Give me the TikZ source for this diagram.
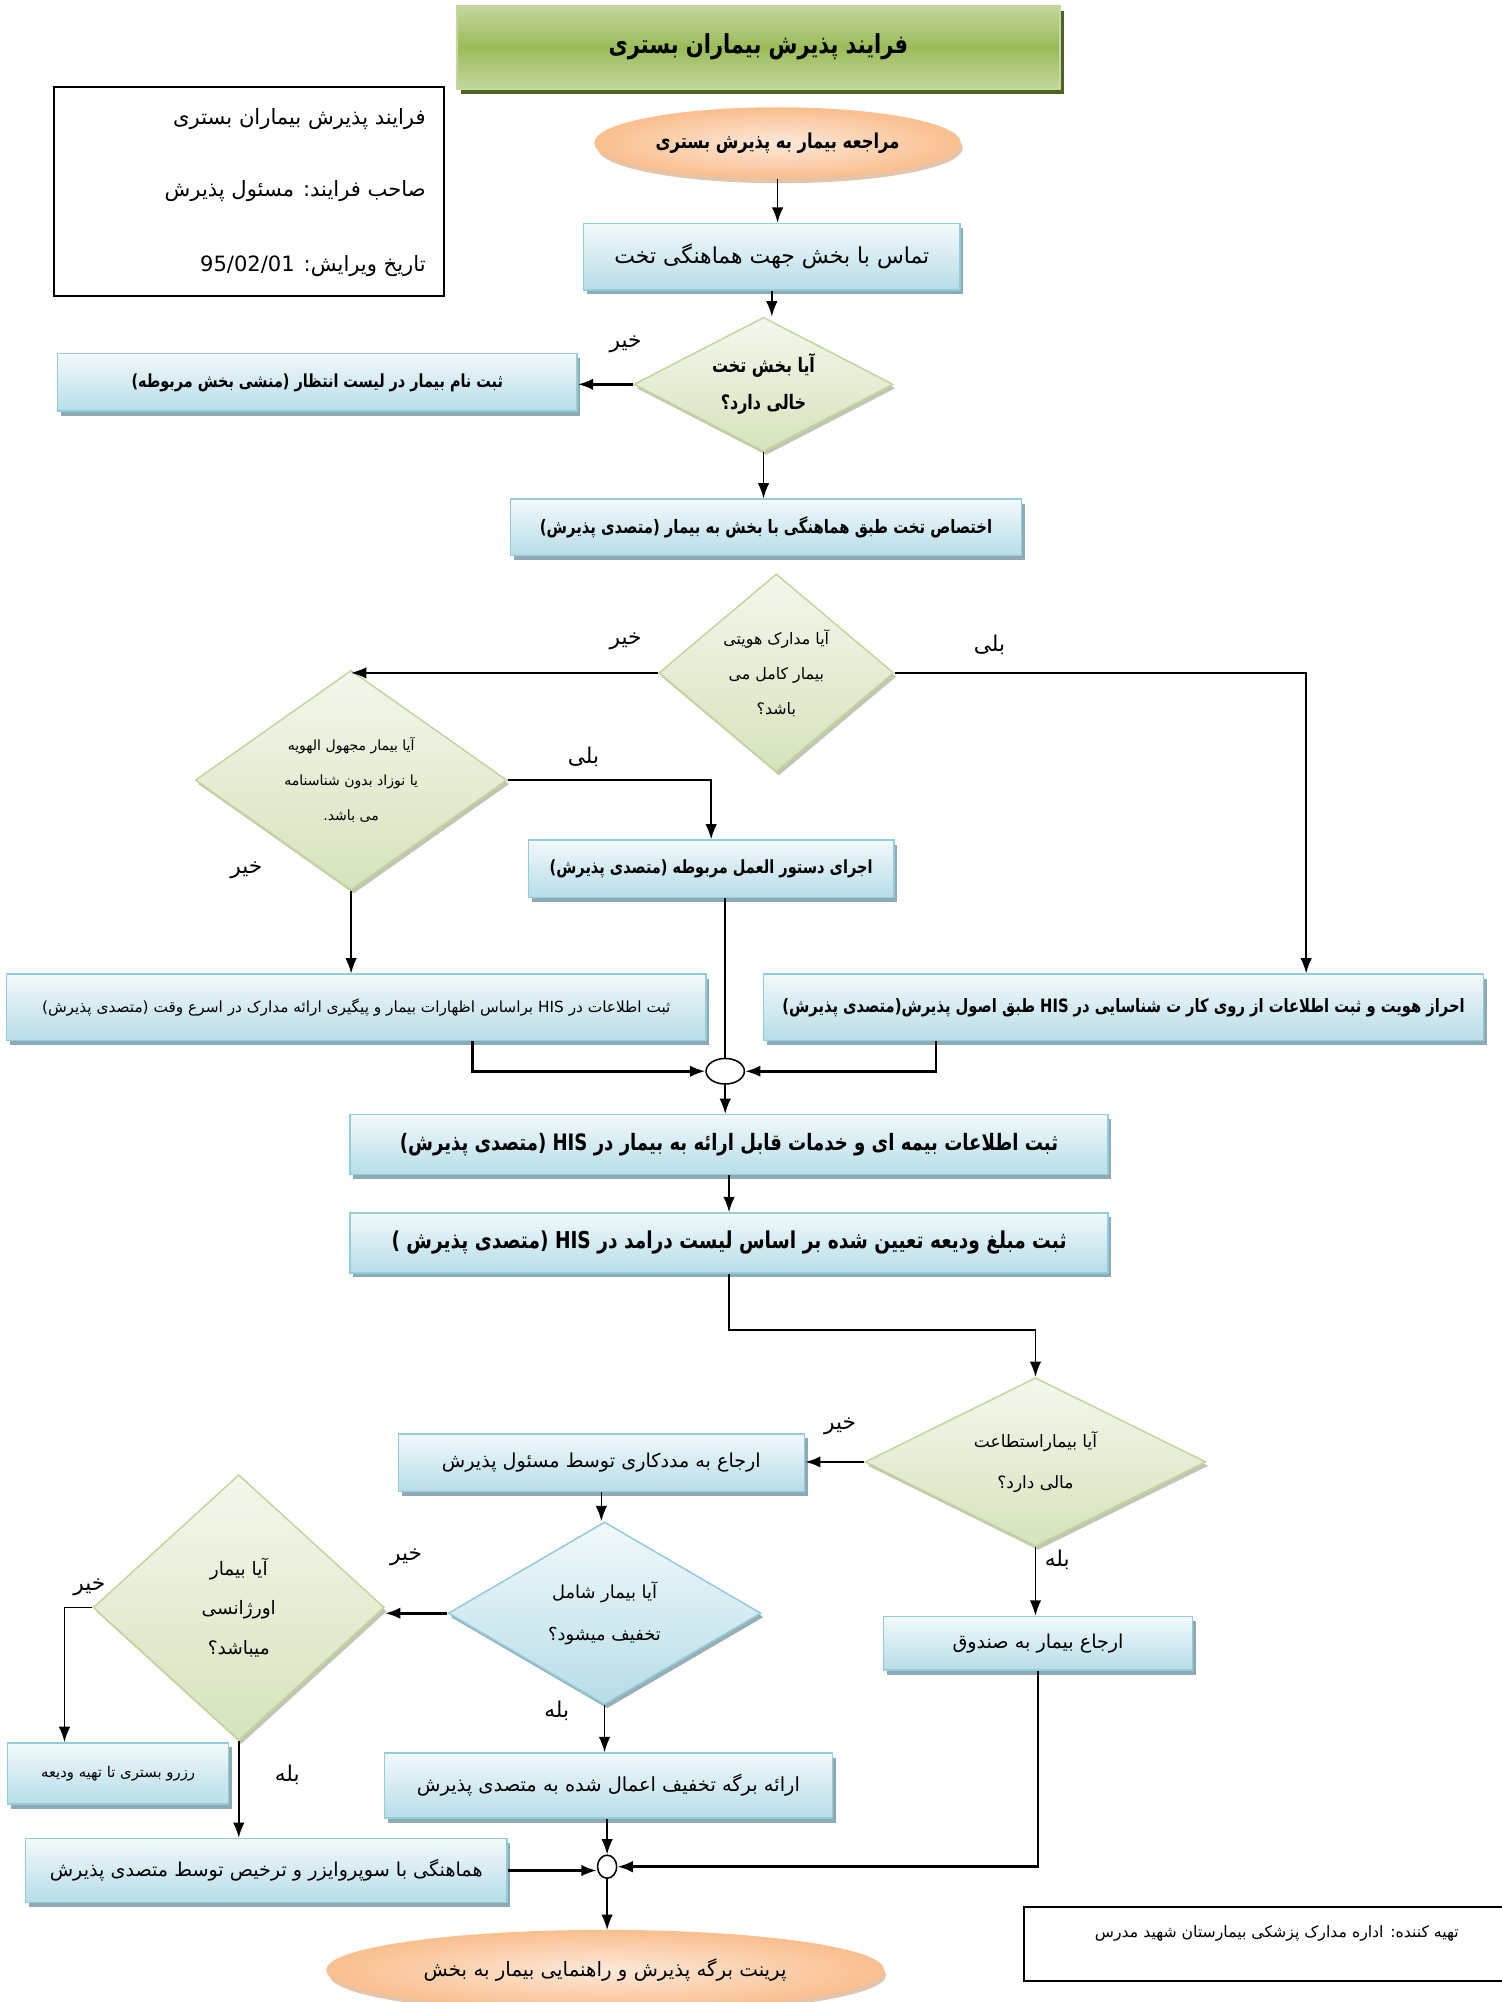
\documentclass[tikz,border=0pt]{standalone}
\usepackage{fontspec}
\newfontfamily\arabicfont[Script=Arabic]{DejaVu Sans}
\newfontfamily\arabicnarrow[Script=Arabic, FakeStretch=0.8]{DejaVu Sans}
\TeXXeTstate=1
\usepackage{xcolor}
\usetikzlibrary{shapes.geometric, arrows.meta, positioning, calc, shadows}

\definecolor{boxtop}{RGB}{242,249,251}
\definecolor{boxbot}{RGB}{183,221,232}
\definecolor{boxline}{RGB}{146,205,220}
\definecolor{boxshade}{RGB}{142,170,181}
\definecolor{diatop}{RGB}{244,247,237}
\definecolor{diabot}{RGB}{214,227,188}
\definecolor{dialine}{RGB}{195,214,155}
\definecolor{diashade}{RGB}{178,184,160}
\definecolor{ellmid}{RGB}{253,233,217}
\definecolor{ellbot}{RGB}{250,191,143}
\definecolor{ellshade}{RGB}{228,196,170}
\definecolor{titletop}{RGB}{196,215,158}
\definecolor{titlemid}{RGB}{155,187,89}
\definecolor{titleshade}{RGB}{79,98,40}

\def\fk{1}
\newcommand\fs[2]{\fontsize{\fpeval{#1*\fk}}{#2}\selectfont}
\newcommand\fa[1]{{\arabicfont\beginR #1\endR}}
\newcommand\fab[1]{{\arabicnarrow\bfseries\beginR #1\endR}}
\newcommand\lat[1]{\beginL #1\endL}

\tikzset{
  proc/.style={rectangle, draw=boxline, line width=1.2pt, top color=boxtop, bottom color=boxbot,
    inner sep=0pt, align=center,
    drop shadow={shadow xshift=2.5pt, shadow yshift=-3.5pt, fill=boxshade, opacity=1}},
  dec/.style={diamond, draw=dialine, line width=1.2pt, top color=diatop, bottom color=diabot,
    inner sep=0pt, align=center,
    drop shadow={shadow xshift=2pt, shadow yshift=-3pt, fill=diashade, opacity=.8}},
  decblue/.style={dec, draw=boxline, top color=boxtop, bottom color=boxbot,
    drop shadow={shadow xshift=2pt, shadow yshift=-3pt, fill=boxshade, opacity=.8}},
  term/.style={ellipse, draw=ellbot, line width=1pt, inner color=ellmid, outer color=ellbot,
    inner sep=0pt, align=center,
    drop shadow={shadow xshift=2pt, shadow yshift=-4pt, fill=ellshade, opacity=1}},
  junction/.style={ellipse, draw, line width=1.2pt, fill=white, inner sep=0pt},
  lbl/.style={inner sep=0pt, font=\fs{17}{20}},
  thk/.style={line width=2pt}
}

\begin{document}
\begin{tikzpicture}[x=1pt, y=-1pt, line width=1.2pt, >={Latex[length=12pt,width=9pt]}]
\useasboundingbox (0,0) rectangle (1176,1568);

\node[rectangle, draw=titletop, line width=1.2pt, top color=titletop, bottom color=titletop, middle color=titlemid,
  minimum width=472, minimum height=65, font=\fs{20.5}{24},
  drop shadow={shadow xshift=3pt, shadow yshift=-4pt, fill=titleshade, opacity=1}] (title) at (594,37)
  {\fab{فرایند پذیرش بیماران بستری}};

\node[draw, line width=1.5pt, minimum width=306, minimum height=164] (info) at (195,150) {};
\node[anchor=east, inner sep=0pt, font=\fs{16.5}{20}] (info1) at (334,93) {\fa{فرایند پذیرش بیماران بستری}};
\node[anchor=east, inner sep=0pt, font=\fs{16.5}{20}] (info2) at (334,150) {\fa{صاحب فرایند: مسئول پذیرش}};
\node[anchor=east, inner sep=0pt, font=\fs{16.5}{20}] (info3) at (334,208) {\fa{تاریخ ویرایش: \lat{95/02/01}}};

\node[term, minimum width=286, minimum height=55, font=\fs{16}{19}] (start) at (609,112)
  {\fab{مراجعه بیمار به پذیرش بستری}};
\node[proc, minimum width=295, minimum height=52, font=\fs{17.2}{21}] (contact) at (604.5,201)
  {\fa{تماس با بخش جهت هماهنگی تخت}};
\node[dec, minimum width=203, minimum height=105, aspect=1.93, font=\fs{15.6}{29}] (bedq) at (598,301)
  {\fab{آیا بخش تخت}\\\fab{خالی دارد؟}};
\node[proc, minimum width=407, minimum height=45, font=\fs{14.1}{17}] (wait) at (248.5,299.5)
  {\fab{ثبت نام بیمار در لیست انتظار  (منشی بخش مربوطه)}};
\node[proc, minimum width=400, minimum height=44, font=\fs{14.5}{17}] (assign) at (600,413)
  {\fab{اختصاص تخت طبق هماهنگی با بخش به بیمار (متصدی پذیرش)}};

\node[dec, minimum width=184, minimum height=155, aspect=1.19, font=\fs{12.4}{27.5}] (docq) at (608,527)
  {\fa{آیا مدارک هویتی}\\\fa{بیمار کامل می}\\\fa{باشد؟}};
\node[dec, minimum width=244, minimum height=172, aspect=1.42, font=\fs{11}{27.5}] (anonq) at (275,611)
  {\fa{آیا بیمار مجهول الهویه}\\\fa{یا نوزاد بدون شناسنامه}\\\fa{می باشد.}};
\node[proc, minimum width=286, minimum height=45, font=\fs{14.25}{17}] (instr) at (557,680.5)
  {\fab{اجرای دستور العمل مربوطه (متصدی پذیرش)}};
\node[proc, minimum width=548, minimum height=52, font=\fs{12}{15}] (hisdecl) at (279,789)
  {\fa{ثبت اطلاعات در \lat{HIS} براساس اظهارات بیمار و پیگیری ارائه مدارک در اسرع وقت (متصدی پذیرش)}};
\node[proc, minimum width=564, minimum height=52, font=\fs{14.4}{17}] (idcheck) at (880,789)
  {\fab{احراز هویت و ثبت اطلاعات از روی کار ت شناسایی در \lat{HIS} طبق اصول پذیرش(متصدی پذیرش)}};
\node[junction, minimum width=30, minimum height=20] (j1) at (568,839) {};

\node[proc, minimum width=594, minimum height=47, font=\fs{17.7}{21}] (insur) at (571,896.5)
  {\fab{ثبت اطلاعات بیمه ای و خدمات قابل ارائه به بیمار در \lat{HIS} (متصدی پذیرش)}};
\node[proc, minimum width=594, minimum height=47, font=\fs{18.2}{21}] (deposit) at (571,973.5)
  {\fab{ثبت مبلغ ودیعه تعیین شده بر اساس لیست درامد در  \lat{HIS} (متصدی پذیرش )}};

\node[dec, minimum width=267, minimum height=132, aspect=2.02, font=\fs{13.3}{32}] (payq) at (811,1145)
  {\fa{آیا بیماراستطاعت}\\\fa{مالی دارد؟}};
\node[proc, minimum width=318, minimum height=45, font=\fs{15}{18}] (social) at (471,1145.5)
  {\fa{ارجاع به مددکاری توسط مسئول پذیرش}};
\node[proc, minimum width=242, minimum height=42, font=\fs{15}{18}] (cashier) at (813,1287)
  {\fa{ارجاع بیمار به صندوق}};
\node[decblue, minimum width=245, minimum height=143, aspect=1.71, font=\fs{14}{33}] (discq) at (473.5,1263.5)
  {\fa{آیا بیمار شامل}\\\fa{تخفیف میشود؟}};
\node[dec, minimum width=228, minimum height=208, aspect=1.1, font=\fs{14.5}{31}] (emerq) at (187,1259)
  {\fa{آیا بیمار}\\\fa{اورژانسی}\\\fa{میباشد؟}};
\node[proc, minimum width=173, minimum height=48, font=\fs{11.6}{14}] (reserve) at (92.5,1389)
  {\fa{رزرو بستری تا تهیه ودیعه}};
\node[proc, minimum width=351, minimum height=51, font=\fs{15.2}{18}] (discform) at (476.5,1398.5)
  {\fa{ارائه برگه تخفیف اعمال شده به متصدی  پذیرش}};
\node[proc, minimum width=377, minimum height=50, font=\fs{15}{18}] (superv) at (208.5,1465)
  {\fa{هماهنگی با سوپروایزر و ترخیص توسط متصدی پذیرش}};
\node[junction, minimum width=15, minimum height=18] (j2) at (475.5,1462) {};
\node[term, minimum width=436, minimum height=62, font=\fs{15.5}{18}] (finish) at (474,1543)
  {\fa{پرینت برگه پذیرش و راهنمایی بیمار به بخش}};

\node[draw, line width=1.5pt, anchor=north west, minimum width=420, minimum height=58] (footer) at (801,1493) {};
\node[inner sep=0pt, font=\fs{12.3}{15}] (footertxt) at (1000,1514)
  {\fa{تهیه کننده: اداره مدارک پزشکی بیمارستان شهید مدرس}};

\node[lbl] (no1) at (490,270) {\fa{خیر}};
\node[lbl] (no2) at (490,502) {\fa{خیر}};
\node[lbl] (yes2) at (775,505) {\fa{بلی}};
\node[lbl] (yes3) at (457,593) {\fa{بلی}};
\node[lbl] (no3) at (193,682) {\fa{خیر}};
\node[lbl] (no4) at (658,1117) {\fa{خیر}};
\node[lbl] (yes4) at (828,1222) {\fa{بله}};
\node[lbl] (no5) at (318,1220) {\fa{خیر}};
\node[lbl] (yes5) at (436,1340) {\fa{بله}};
\node[lbl] (no6) at (70,1243) {\fa{خیر}};
\node[lbl] (yes6) at (225,1390) {\fa{بله}};

\draw[->] (start.south) -- (start.south |- contact.north);
\draw[->] (contact.south) -- (contact.south |- bedq.north);
\draw[->, thk] (bedq.west) -- (bedq.west -| wait.east);
\draw[->] (bedq.south) -- (bedq.south |- assign.north);
\draw[->] (docq.west) -- (docq.west -| anonq.north);
\draw[->] (docq.east) -| ([xshift=143pt]idcheck.north);
\draw[->] (anonq.east) -| (instr.north);
\draw[->] (anonq.south) -- (anonq.south |- hisdecl.north);
\draw (instr.south -| j1.north) -- (j1.north);
\draw[->, thk] ([xshift=91pt]hisdecl.south) |- (j1.west);
\draw[->, thk] ([xshift=-147pt]idcheck.south) |- (j1.east);
\draw[->] (j1.south) -- (j1.south |- insur.north);
\draw[->] (insur.south) -- (deposit.north);
\draw[->] (deposit.south) -- ++(0,44) -| (payq.north);
\draw[->, thk] (payq.west) -- (payq.west -| social.east);
\draw[->] (payq.south) -- (payq.south |- cashier.north);
\draw[->] (social.south) -- (social.south |- discq.north);
\draw[->, thk] (discq.west) -- (discq.west -| emerq.east);
\draw[->] (emerq.west) -| ([xshift=-42pt]reserve.north);
\draw[->] (emerq.south) -- (emerq.south |- superv.north);
\draw[->] (discq.south) -- (discq.south |- discform.north);
\draw[->] (discform.south -| j2.north) -- (j2.north);
\draw[->, thk] (superv.east) -- (superv.east -| j2.west);
\draw[->, thk] (cashier.south) |- (j2.east);
\draw[->] (j2.south) -- (j2.south |- finish.north);
\end{tikzpicture}
\end{document}
